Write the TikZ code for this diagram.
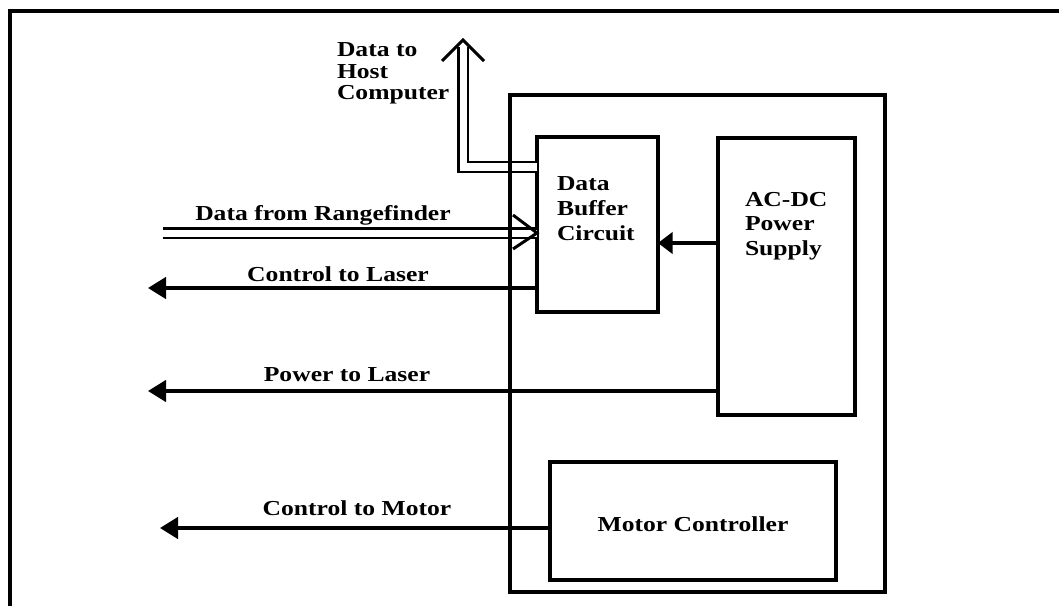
\documentclass[tikz,border=0pt]{standalone}
\usepackage{fontspec}
\setmainfont{Liberation Serif}[FakeStretch=1.2]
\usetikzlibrary{arrows.meta}
\begin{document}
\begin{tikzpicture}[x=0.75pt,y=-0.75pt,
  box/.style={draw, line width=2.6pt, inner sep=0pt, outer sep=0pt},
  txt/.style={inner sep=0pt, outer sep=0pt, font=\fontsize{16}{18.5}\selectfont\bfseries},
  conn/.style={line width=2.6pt},
  tri/.style={-{Triangle[length=13.5pt,width=16pt]}},
  dbl/.style={line width=2.2pt, double, double distance=5.25pt, line join=miter},
  barb/.style={line width=2.2pt, line join=miter, line cap=butt},
  frame/.style={line width=3pt, line join=miter}]
\useasboundingbox (0,0) rectangle (1059,606);
% partial outer frame
\coordinate (fTR) at (1059,11);
\coordinate (fTL) at (10,11);
\coordinate (fBL) at (10,606);
\draw[frame] (fTR) -- (fTL) -- (fBL);
% inner blocks
\node[box, minimum width=90.75pt, minimum height=131.25pt] (buf) at (597.5,224.5) {};
\node[box, minimum width=102.75pt, minimum height=207.75pt] (ps) at (786.5,276.5) {};
\node[box, minimum width=214.5pt, minimum height=88.5pt] (mc) at (693,521) {};
\node[txt, align=left, anchor=north west] (buft) at (557,177) {Data\\Buffer\\Circuit};
\node[txt, align=left, anchor=north west] (pst) at (745,192) {AC-DC\\Power\\Supply};
\node[txt, anchor=base] (mct) at (693,531) {Motor Controller};
% labels
\node[txt, anchor=base] (lrf) at (323,220) {Data from Rangefinder};
\node[txt, anchor=base] (lcl) at (338,281) {Control to Laser};
\node[txt, anchor=base] (lpl) at (347,381) {Power to Laser};
\node[txt, anchor=base] (lcm) at (357,515) {Control to Motor};
\node[txt, align=left, anchor=north west, font=\fontsize{16}{16}\selectfont\bfseries] (lhost) at (337,43) {Data to\\Host\\Computer};
% connectors
\coordinate (yPS) at (0,243);
\draw[conn, -{Triangle[length=11pt,width=16pt]}] (ps.west |- yPS) -- (buf.east |- yPS);
\coordinate (yCL) at (0,288);
\coordinate (clE) at (148,288);
\draw[conn, tri] (buf.west |- yCL) -- (clE);
\coordinate (yPL) at (0,391);
\coordinate (plE) at (148,391);
\draw[conn, tri] (ps.west |- yPL) -- (plE);
\coordinate (yCM) at (0,528);
\coordinate (cmE) at (160,528);
\draw[conn, tri] (mc.west |- yCM) -- (cmE);
% data from rangefinder (double line, open head)
\coordinate (rfL) at (163,233);
\coordinate (rfR) at (buf.west |- rfL);
\draw[dbl] (rfL) -- (rfR);
\draw[barb] ([shift={(-24,-18)}]rfR) -- (rfR) -- ([shift={(-24,16)}]rfR);
% data to host computer (double line, open head)
\coordinate (yH) at (0,167);
\coordinate (hT) at (463,40);
\coordinate (hE) at (463,47);
\draw[dbl] (buf.west |- yH) -| (hE);
\draw[barb] ([shift={(-21,21)}]hT) -- (hT) -- ([shift={(21,21)}]hT);
% enclosing unit, drawn last so its edge crosses the double lines
\node[box, minimum width=281.25pt, minimum height=372.75pt] (main) at (697.5,343.5) {};
\end{tikzpicture}
\end{document}
